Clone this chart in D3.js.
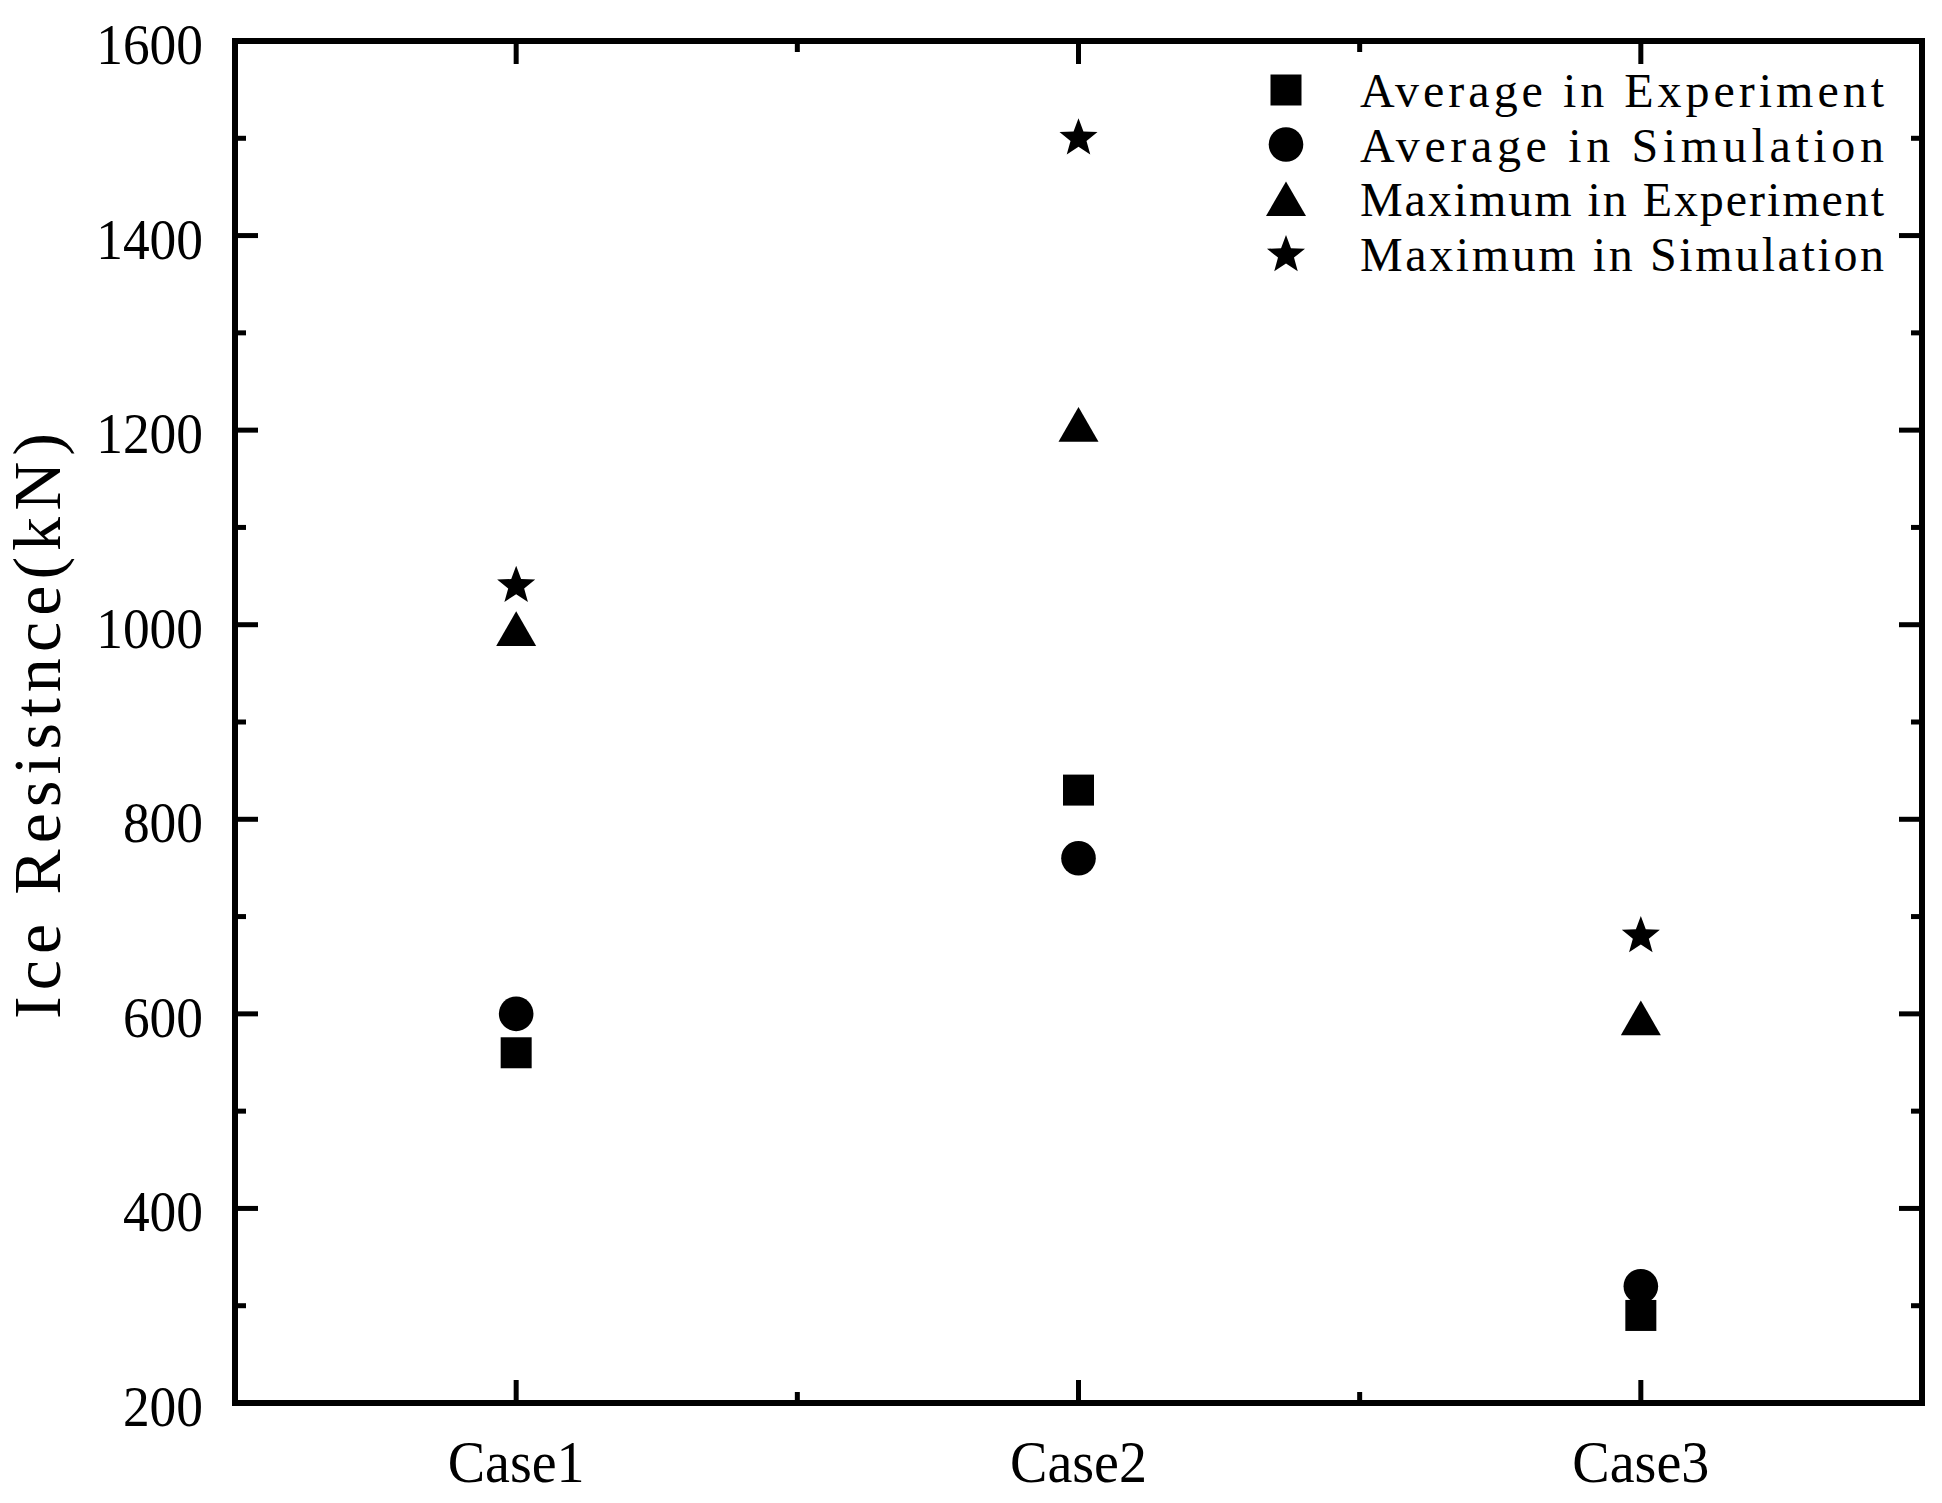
<!DOCTYPE html>
<html>
<head>
<meta charset="utf-8">
<script src="https://cdn.jsdelivr.net/npm/d3@7"></script>
<style>
  html, body { margin: 0; padding: 0; background: #fff; }
  svg { display: block; }
  text { font-family: 'Liberation Serif', 'DejaVu Serif', serif; fill: #000; }
</style>
</head>
<body>
<script>
const categories = ["Case1", "Case2", "Case3"];
const avgExperiment = [560, 830, 290];
const avgSimulation = [600, 760, 320];
const maxExperiment = [990, 1200, 590];
const maxSimulation = [1040, 1500, 680];
const yTicks = [200, 400, 600, 800, 1000, 1200, 1400, 1600];
const yMinorTicks = [300, 500, 700, 900, 1100, 1300, 1500];
const seriesNames = ["Average in Experiment", "Average in Simulation", "Maximum in Experiment", "Maximum in Simulation"];
const yLabel = "Ice Resistnce(kN)";

const W = 1942, H = 1503;
const L = 235, R = 1922, T = 41, B = 1403;

const svg = d3.select("body").append("svg").attr("width", W).attr("height", H);

const x = d3.scalePoint().domain(categories).range([L, R]).padding(0.5);
const y = d3.scaleLinear().domain([200, 1600]).range([B, T]);

const step = x.step();
const xMinor = categories.slice(0, -1).map(c => x(c) + step / 2);

const majorLen = 23, minorLen = 11, tickW = 5;
const g = svg.append("g");

yTicks.forEach(v => {
  g.append("line").attr("x1", L).attr("x2", L + majorLen).attr("y1", y(v)).attr("y2", y(v)).attr("stroke", "#000").attr("stroke-width", tickW);
  g.append("line").attr("x1", R).attr("x2", R - majorLen).attr("y1", y(v)).attr("y2", y(v)).attr("stroke", "#000").attr("stroke-width", tickW);
});
yMinorTicks.forEach(v => {
  g.append("line").attr("x1", L).attr("x2", L + minorLen).attr("y1", y(v)).attr("y2", y(v)).attr("stroke", "#000").attr("stroke-width", tickW);
  g.append("line").attr("x1", R).attr("x2", R - minorLen).attr("y1", y(v)).attr("y2", y(v)).attr("stroke", "#000").attr("stroke-width", tickW);
});
categories.forEach(c => {
  g.append("line").attr("x1", x(c)).attr("x2", x(c)).attr("y1", B).attr("y2", B - majorLen).attr("stroke", "#000").attr("stroke-width", tickW);
  g.append("line").attr("x1", x(c)).attr("x2", x(c)).attr("y1", T).attr("y2", T + majorLen).attr("stroke", "#000").attr("stroke-width", tickW);
});
xMinor.forEach(px => {
  g.append("line").attr("x1", px).attr("x2", px).attr("y1", B).attr("y2", B - minorLen).attr("stroke", "#000").attr("stroke-width", tickW);
  g.append("line").attr("x1", px).attr("x2", px).attr("y1", T).attr("y2", T + minorLen).attr("stroke", "#000").attr("stroke-width", tickW);
});

svg.append("rect").attr("x", L).attr("y", T).attr("width", R - L).attr("height", B - T)
  .attr("fill", "none").attr("stroke", "#000").attr("stroke-width", 6);

yTicks.forEach(v => {
  const s = String(v);
  svg.append("text").attr("x", 203).attr("y", y(v) + 23).attr("text-anchor", "end")
    .attr("font-size", 58).attr("textLength", s.length * 26.7).attr("lengthAdjust", "spacingAndGlyphs").text(s);
});
categories.forEach(c => {
  svg.append("text").attr("x", x(c)).attr("y", 1482).attr("text-anchor", "middle")
    .attr("font-size", 60).attr("textLength", c.length * 27.4).attr("lengthAdjust", "spacingAndGlyphs").text(c);
});
svg.append("text").attr("transform", "translate(60," + ((T + B) / 2 + 4) + ") rotate(-90)")
  .attr("text-anchor", "middle").attr("font-size", 68)
  .attr("textLength", 586).attr("lengthAdjust", "spacing").text(yLabel);

function squarePath(s) { const h = s / 2; return `M${-h},${-h}H${h}V${h}H${-h}Z`; }
function circlePath(r) { return `M${r},0A${r},${r} 0 1,1 ${-r},0A${r},${r} 0 1,1 ${r},0Z`; }
function trianglePath(r) { const a = r * Math.sqrt(3) / 2; return `M0,${-r}L${a},${r / 2}L${-a},${r / 2}Z`; }
function starPath(R0, ri) {
  let p = "";
  for (let i = 0; i < 10; i++) {
    const rr = i % 2 === 0 ? R0 : R0 * ri;
    const ang = -Math.PI / 2 + i * Math.PI / 5;
    p += (i === 0 ? "M" : "L") + (rr * Math.cos(ang)).toFixed(2) + "," + (rr * Math.sin(ang)).toFixed(2);
  }
  return p + "Z";
}
const shapes = [squarePath(31), circlePath(17.3), trianglePath(23.1), starPath(20, 0.42)];
const seriesData = [avgExperiment, avgSimulation, maxExperiment, maxSimulation];

seriesData.forEach((vals, si) => {
  svg.append("g").selectAll("path").data(vals).join("path")
    .attr("transform", (d, i) => `translate(${x(categories[i])},${y(d)})`)
    .attr("d", shapes[si]).attr("fill", "#000");
});

const legendRows = [90, 144.5, 199, 253.5];
seriesNames.forEach((name, i) => {
  const offs = i === 2 ? 5.5 : (i === 3 ? 1.5 : 0);
  svg.append("path").attr("transform", `translate(1286,${legendRows[i] + offs})`).attr("d", shapes[i]).attr("fill", "#000");
  svg.append("text").attr("x", 1360).attr("y", legendRows[i] + 17).attr("font-size", 48)
    .attr("textLength", 524).attr("lengthAdjust", "spacing").text(name);
});
</script>
</body>
</html>
